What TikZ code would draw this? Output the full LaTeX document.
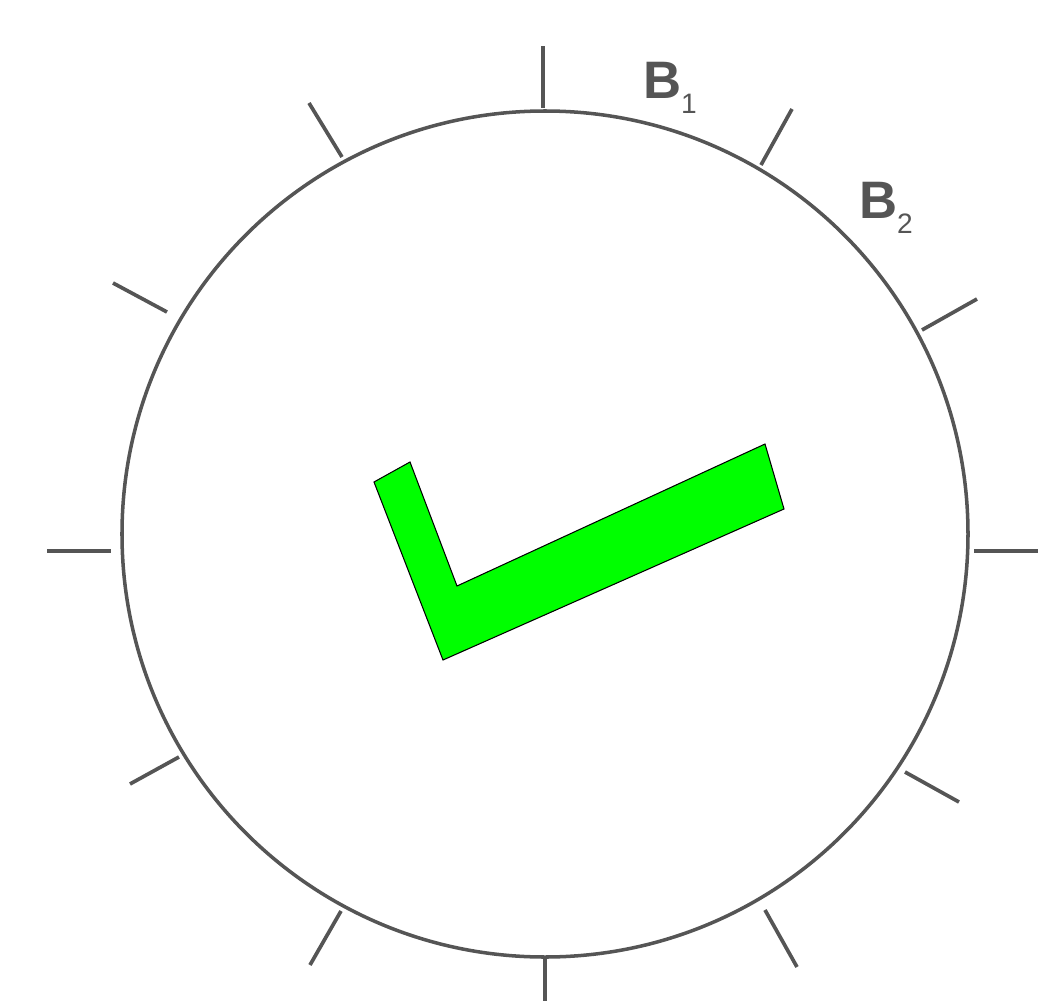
\documentclass[tikz,border=0pt]{standalone}
\usepackage{fontspec}
\setmainfont{Liberation Sans}
\usepackage{xcolor}
\usepackage{tikz}
\usetikzlibrary{calc}

\definecolor{dialgray}{HTML}{555555}
\definecolor{checkgreen}{HTML}{00FF00}

\begin{document}
\begin{tikzpicture}[
    dial/.style={draw=dialgray, line width=2pt},
    tick/.style={dialgray, line width=2.1pt},
    sector/.style={text=dialgray, font=\fontsize{30}{32}\selectfont\bfseries, inner sep=0pt}
]
\useasboundingbox (-10.88,-9.32) rectangle (10.32,10.68);

% Dial
\draw[dial] (0.02,0) circle (8.46);

% Tick marks (inner end / outer end)
\foreach \ix/\iy/\ox/\oy in {
    -0.02/8.52/-0.02/9.76,   4.34/7.38/4.96/8.50,     7.56/4.08/8.66/4.70,
    8.60/-0.34/9.88/-0.34,   7.22/-4.76/8.30/-5.36,   4.42/-7.52/5.06/-8.66,
    0.02/-8.48/0.02/-9.80,   -4.06/-7.54/-4.68/-8.62, -7.30/-4.46/-8.28/-5.00,
    -8.66/-0.34/-9.94/-0.34, -7.54/4.44/-8.62/5.02,   -4.04/7.54/-4.70/8.62} {
    \draw[tick] (\ix,\iy) -- (\ox,\oy);
}

% Sector labels
\node[sector] (b1) at (2.52,8.92) {B\raisebox{-0.3cm}{\fontsize{16}{16}\mdseries\selectfont 1}};
\node[sector] (b2) at (6.84,6.52) {B\raisebox{-0.3cm}{\fontsize{16}{16}\mdseries\selectfont 2}};

% Check mark
\draw[fill=checkgreen, line width=0.6pt, line join=miter]
    (-3.40,1.04) -- (-2.68,1.44) -- (-1.74,-1.04) -- (4.42,1.80)
    -- (4.80,0.50) -- (-2.02,-2.52) -- cycle;
\end{tikzpicture}
\end{document}
